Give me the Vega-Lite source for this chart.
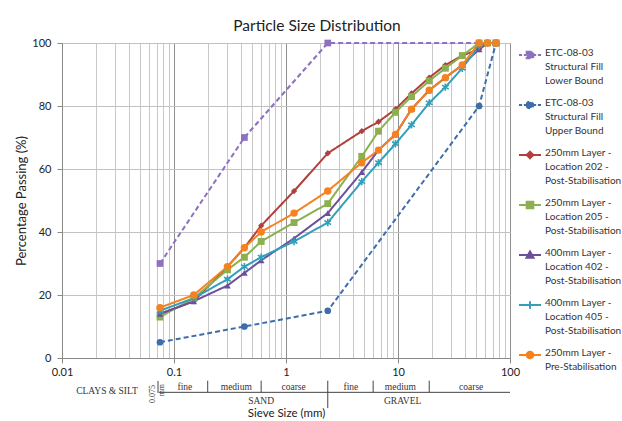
{
  "$schema": "https://vega.github.io/schema/vega-lite/v6.json",
  "autosize": {"type": "none"},
  "width": 448,
  "height": 315,
  "padding": {"left": 62, "top": 43, "right": 112, "bottom": 63},
  "background": "white",
  "config": {
    "view": {"stroke": "#8a8a8a", "strokeWidth": 1},
    "font": "Lato"
  },
  "title": {"text": "Particle Size Distribution", "font": "Lato", "fontSize": 15.5, "fontWeight": "normal", "color": "#222", "offset": 2, "anchor": "middle", "dx": 31},
  "datasets": {
    "psd": [
      {"series": "ETC-08-03|Structural Fill|Lower Bound", "size": 0.075, "pct": 30},
      {"series": "ETC-08-03|Structural Fill|Lower Bound", "size": 0.425, "pct": 70},
      {"series": "ETC-08-03|Structural Fill|Lower Bound", "size": 2.36, "pct": 100},
      {"series": "ETC-08-03|Structural Fill|Lower Bound", "size": 75, "pct": 100},
      {"series": "ETC-08-03|Structural Fill|Upper Bound", "size": 0.075, "pct": 5},
      {"series": "ETC-08-03|Structural Fill|Upper Bound", "size": 0.425, "pct": 10},
      {"series": "ETC-08-03|Structural Fill|Upper Bound", "size": 2.36, "pct": 15},
      {"series": "ETC-08-03|Structural Fill|Upper Bound", "size": 53, "pct": 80},
      {"series": "ETC-08-03|Structural Fill|Upper Bound", "size": 75, "pct": 100},
      {"series": "250mm Layer -|Location 202 -|Post-Stabilisation", "size": 0.075, "pct": 14},
      {"series": "250mm Layer -|Location 202 -|Post-Stabilisation", "size": 0.15, "pct": 18},
      {"series": "250mm Layer -|Location 202 -|Post-Stabilisation", "size": 0.3, "pct": 29},
      {"series": "250mm Layer -|Location 202 -|Post-Stabilisation", "size": 0.425, "pct": 35},
      {"series": "250mm Layer -|Location 202 -|Post-Stabilisation", "size": 0.6, "pct": 42},
      {"series": "250mm Layer -|Location 202 -|Post-Stabilisation", "size": 1.18, "pct": 53},
      {"series": "250mm Layer -|Location 202 -|Post-Stabilisation", "size": 2.36, "pct": 65},
      {"series": "250mm Layer -|Location 202 -|Post-Stabilisation", "size": 4.75, "pct": 72},
      {"series": "250mm Layer -|Location 202 -|Post-Stabilisation", "size": 6.7, "pct": 75},
      {"series": "250mm Layer -|Location 202 -|Post-Stabilisation", "size": 9.5, "pct": 79},
      {"series": "250mm Layer -|Location 202 -|Post-Stabilisation", "size": 13.2, "pct": 84},
      {"series": "250mm Layer -|Location 202 -|Post-Stabilisation", "size": 19, "pct": 89},
      {"series": "250mm Layer -|Location 202 -|Post-Stabilisation", "size": 26.5, "pct": 93},
      {"series": "250mm Layer -|Location 202 -|Post-Stabilisation", "size": 37.5, "pct": 96},
      {"series": "250mm Layer -|Location 202 -|Post-Stabilisation", "size": 53, "pct": 98},
      {"series": "250mm Layer -|Location 202 -|Post-Stabilisation", "size": 63, "pct": 100},
      {"series": "250mm Layer -|Location 202 -|Post-Stabilisation", "size": 75, "pct": 100},
      {"series": "250mm Layer -|Location 205 -|Post-Stabilisation", "size": 0.075, "pct": 13},
      {"series": "250mm Layer -|Location 205 -|Post-Stabilisation", "size": 0.15, "pct": 19},
      {"series": "250mm Layer -|Location 205 -|Post-Stabilisation", "size": 0.3, "pct": 28},
      {"series": "250mm Layer -|Location 205 -|Post-Stabilisation", "size": 0.425, "pct": 32},
      {"series": "250mm Layer -|Location 205 -|Post-Stabilisation", "size": 0.6, "pct": 37},
      {"series": "250mm Layer -|Location 205 -|Post-Stabilisation", "size": 1.18, "pct": 43},
      {"series": "250mm Layer -|Location 205 -|Post-Stabilisation", "size": 2.36, "pct": 49},
      {"series": "250mm Layer -|Location 205 -|Post-Stabilisation", "size": 4.75, "pct": 64},
      {"series": "250mm Layer -|Location 205 -|Post-Stabilisation", "size": 6.7, "pct": 72},
      {"series": "250mm Layer -|Location 205 -|Post-Stabilisation", "size": 9.5, "pct": 78},
      {"series": "250mm Layer -|Location 205 -|Post-Stabilisation", "size": 13.2, "pct": 83},
      {"series": "250mm Layer -|Location 205 -|Post-Stabilisation", "size": 19, "pct": 88},
      {"series": "250mm Layer -|Location 205 -|Post-Stabilisation", "size": 26.5, "pct": 92},
      {"series": "250mm Layer -|Location 205 -|Post-Stabilisation", "size": 37.5, "pct": 96},
      {"series": "250mm Layer -|Location 205 -|Post-Stabilisation", "size": 53, "pct": 100},
      {"series": "250mm Layer -|Location 205 -|Post-Stabilisation", "size": 63, "pct": 100},
      {"series": "250mm Layer -|Location 205 -|Post-Stabilisation", "size": 75, "pct": 100},
      {"series": "400mm Layer -|Location 402 -|Post-Stabilisation", "size": 0.075, "pct": 14},
      {"series": "400mm Layer -|Location 402 -|Post-Stabilisation", "size": 0.15, "pct": 18},
      {"series": "400mm Layer -|Location 402 -|Post-Stabilisation", "size": 0.3, "pct": 23},
      {"series": "400mm Layer -|Location 402 -|Post-Stabilisation", "size": 0.425, "pct": 27},
      {"series": "400mm Layer -|Location 402 -|Post-Stabilisation", "size": 0.6, "pct": 31},
      {"series": "400mm Layer -|Location 402 -|Post-Stabilisation", "size": 1.18, "pct": 38},
      {"series": "400mm Layer -|Location 402 -|Post-Stabilisation", "size": 2.36, "pct": 46},
      {"series": "400mm Layer -|Location 402 -|Post-Stabilisation", "size": 4.75, "pct": 59},
      {"series": "400mm Layer -|Location 402 -|Post-Stabilisation", "size": 6.7, "pct": 66},
      {"series": "400mm Layer -|Location 402 -|Post-Stabilisation", "size": 9.5, "pct": 71},
      {"series": "400mm Layer -|Location 402 -|Post-Stabilisation", "size": 13.2, "pct": 79},
      {"series": "400mm Layer -|Location 402 -|Post-Stabilisation", "size": 19, "pct": 85},
      {"series": "400mm Layer -|Location 402 -|Post-Stabilisation", "size": 26.5, "pct": 89},
      {"series": "400mm Layer -|Location 402 -|Post-Stabilisation", "size": 37.5, "pct": 93},
      {"series": "400mm Layer -|Location 402 -|Post-Stabilisation", "size": 53, "pct": 98},
      {"series": "400mm Layer -|Location 402 -|Post-Stabilisation", "size": 63, "pct": 100},
      {"series": "400mm Layer -|Location 402 -|Post-Stabilisation", "size": 75, "pct": 100},
      {"series": "400mm Layer -|Location 405 -|Post-Stabilisation", "size": 0.075, "pct": 15},
      {"series": "400mm Layer -|Location 405 -|Post-Stabilisation", "size": 0.15, "pct": 19},
      {"series": "400mm Layer -|Location 405 -|Post-Stabilisation", "size": 0.3, "pct": 25},
      {"series": "400mm Layer -|Location 405 -|Post-Stabilisation", "size": 0.425, "pct": 29},
      {"series": "400mm Layer -|Location 405 -|Post-Stabilisation", "size": 0.6, "pct": 32},
      {"series": "400mm Layer -|Location 405 -|Post-Stabilisation", "size": 1.18, "pct": 37},
      {"series": "400mm Layer -|Location 405 -|Post-Stabilisation", "size": 2.36, "pct": 43},
      {"series": "400mm Layer -|Location 405 -|Post-Stabilisation", "size": 4.75, "pct": 56},
      {"series": "400mm Layer -|Location 405 -|Post-Stabilisation", "size": 6.7, "pct": 62},
      {"series": "400mm Layer -|Location 405 -|Post-Stabilisation", "size": 9.5, "pct": 68},
      {"series": "400mm Layer -|Location 405 -|Post-Stabilisation", "size": 13.2, "pct": 74},
      {"series": "400mm Layer -|Location 405 -|Post-Stabilisation", "size": 19, "pct": 81},
      {"series": "400mm Layer -|Location 405 -|Post-Stabilisation", "size": 26.5, "pct": 86},
      {"series": "400mm Layer -|Location 405 -|Post-Stabilisation", "size": 37.5, "pct": 92},
      {"series": "400mm Layer -|Location 405 -|Post-Stabilisation", "size": 53, "pct": 99},
      {"series": "400mm Layer -|Location 405 -|Post-Stabilisation", "size": 63, "pct": 100},
      {"series": "400mm Layer -|Location 405 -|Post-Stabilisation", "size": 75, "pct": 100},
      {"series": "250mm Layer  -|Pre-Stabilisation", "size": 0.075, "pct": 16},
      {"series": "250mm Layer  -|Pre-Stabilisation", "size": 0.15, "pct": 20},
      {"series": "250mm Layer  -|Pre-Stabilisation", "size": 0.3, "pct": 29},
      {"series": "250mm Layer  -|Pre-Stabilisation", "size": 0.425, "pct": 35},
      {"series": "250mm Layer  -|Pre-Stabilisation", "size": 0.6, "pct": 40},
      {"series": "250mm Layer  -|Pre-Stabilisation", "size": 1.18, "pct": 46},
      {"series": "250mm Layer  -|Pre-Stabilisation", "size": 2.36, "pct": 53},
      {"series": "250mm Layer  -|Pre-Stabilisation", "size": 4.75, "pct": 62},
      {"series": "250mm Layer  -|Pre-Stabilisation", "size": 6.7, "pct": 66},
      {"series": "250mm Layer  -|Pre-Stabilisation", "size": 9.5, "pct": 71},
      {"series": "250mm Layer  -|Pre-Stabilisation", "size": 13.2, "pct": 79},
      {"series": "250mm Layer  -|Pre-Stabilisation", "size": 19, "pct": 85},
      {"series": "250mm Layer  -|Pre-Stabilisation", "size": 26.5, "pct": 89},
      {"series": "250mm Layer  -|Pre-Stabilisation", "size": 37.5, "pct": 93},
      {"series": "250mm Layer  -|Pre-Stabilisation", "size": 53, "pct": 100},
      {"series": "250mm Layer  -|Pre-Stabilisation", "size": 63, "pct": 100},
      {"series": "250mm Layer  -|Pre-Stabilisation", "size": 75, "pct": 100}
    ],
    "bands": [
      {"size": 0.0252, "level": -10.5, "label": "CLAYS & SILT"},
      {"size": 0.125, "level": -9.2, "label": "fine"},
      {"size": 0.36, "level": -9.2, "label": "medium"},
      {"size": 1.17, "level": -9.2, "label": "coarse"},
      {"size": 3.8, "level": -9.2, "label": "fine"},
      {"size": 10.5, "level": -9.2, "label": "medium"},
      {"size": 45, "level": -9.2, "label": "coarse"},
      {"size": 0.6, "level": -13.7, "label": "SAND"},
      {"size": 11, "level": -13.7, "label": "GRAVEL"}
    ],
    "rotated": [
      {"size": 0.065, "level": -11.4, "label": "0.075"},
      {"size": 0.078, "level": -10.2, "label": "mm"}
    ],
    "dividers": [
      {"size": 0.072, "top": -7.3, "bottom": -11.1},
      {"size": 0.2, "top": -7.2, "bottom": -10.9},
      {"size": 0.6, "top": -7.2, "bottom": -10.9},
      {"size": 2.36, "top": -7.2, "bottom": -15.9},
      {"size": 6, "top": -7.2, "bottom": -10.9},
      {"size": 19, "top": -7.2, "bottom": -10.9}
    ],
    "hline": [
      {"from": 0.0734, "to": 100, "level": -10.9}
    ]
  },
  "layer": [
    {
      "data": {"name": "psd"},
      "mark": {"type": "line", "strokeWidth": 2},
      "encoding": {
        "x": {"field": "size", "type": "quantitative",
          "scale": {"type": "log", "domain": [0.01, 100], "nice": false},
          "axis": {
            "title": "Sieve Size (mm)", "titleFont": "Lato", "titleFontSize": 11.5, "titleFontWeight": "normal", "titleColor": "#222", "titlePadding": 30,
            "values": [0.01,0.02,0.03,0.04,0.05,0.06,0.07,0.08,0.09,0.1,0.2,0.3,0.4,0.5,0.6,0.7,0.8,0.9,1,2,3,4,5,6,7,8,9,10,20,30,40,50,60,70,80,90,100],
            "labelExpr": "abs(log(datum.value)/LN10 - round(log(datum.value)/LN10)) < 0.000001 ? format(datum.value, '~g') : ''",
            "labelFont": "Lato", "labelFontSize": 11, "labelColor": "#222", "labelPadding": 3, "labelFlush": false, "labelOverlap": false,
            "domainColor": "#8a8a8a",
            "tickSize": 5,
            "tickColor": {"condition": {"test": "abs(log(datum.value)/LN10 - round(log(datum.value)/LN10)) < 0.000001", "value": "#8a8a8a"}, "value": "transparent"},
            "gridColor": {"condition": {"test": "abs(log(datum.value)/LN10 - round(log(datum.value)/LN10)) < 0.000001", "value": "#8f8f8f"}, "value": "#c8c8c8"},
            "gridOpacity": 1
          }
        },
        "y": {"field": "pct", "type": "quantitative",
          "scale": {"domain": [0, 100], "nice": false},
          "axis": {
            "title": "Percentage Passing (%)", "titleFont": "Lato", "titleFontSize": 13, "titleFontWeight": "normal", "titleColor": "#222", "titlePadding": 3,
            "values": [0,5,10,15,20,25,30,35,40,45,50,55,60,65,70,75,80,85,90,95,100],
            "labelExpr": "datum.value % 10 == 0 ? datum.label : ''",
            "labelFont": "Lato", "labelFontSize": 11, "labelColor": "#222", "labelPadding": 6,
            "domainColor": "#8a8a8a", "tickColor": "#8a8a8a", "tickSize": 5,
            "gridColor": "#c2c2c2", "gridOpacity": 1
          }
        },
        "color": {"field": "series", "type": "nominal",
          "scale": {
            "domain": ["ETC-08-03|Structural Fill|Lower Bound", "ETC-08-03|Structural Fill|Upper Bound", "250mm Layer -|Location 202 -|Post-Stabilisation", "250mm Layer -|Location 205 -|Post-Stabilisation", "400mm Layer -|Location 402 -|Post-Stabilisation", "400mm Layer -|Location 405 -|Post-Stabilisation", "250mm Layer  -|Pre-Stabilisation"],
            "range": ["#8e70c0", "#3d6eab", "#b0403d", "#8cb04f", "#6c4f9c", "#32a0ba", "#f5821f"]
          },
          "legend": {
            "title": null, "orient": "right", "offset": 8,
            "labelFont": "Lato", "labelFontSize": 10, "labelColor": "#333", "labelLimit": 200,
            "labelExpr": "split(datum.label, '|')",
            "labelBaseline": "top", "labelOffset": 3,
            "symbolSize": 484, "symbolStrokeWidth": 2, "rowPadding": 7,
            "encode": {
              "symbols": {"update": {
                "shape": {"signal": "['M-0.3,-0.3H0.3V0.3H-0.3ZM-1,0H-0.72M-0.56,0H-0.3M0.3,0H0.56M0.72,0H1','M-0.3,0A0.3,0.3 0 1,0 0.3,0A0.3,0.3 0 1,0 -0.3,0ZM-1,0H-0.72M-0.56,0H-0.3M0.3,0H0.56M0.72,0H1','M0,-0.3L0.3,0L0,0.3L-0.3,0ZM-1,0H1','M-0.3,-0.3H0.3V0.3H-0.3ZM-1,0H1','M0,-0.32L0.32,0.25H-0.32ZM-1,0H1','M0,-0.35V0.35M-1,0H1','M-0.3,0A0.3,0.3 0 1,0 0.3,0A0.3,0.3 0 1,0 -0.3,0ZM-1,0H1'][indexof(['ETC-08-03|Structural Fill|Lower Bound','ETC-08-03|Structural Fill|Upper Bound','250mm Layer -|Location 202 -|Post-Stabilisation','250mm Layer -|Location 205 -|Post-Stabilisation','400mm Layer -|Location 402 -|Post-Stabilisation','400mm Layer -|Location 405 -|Post-Stabilisation','250mm Layer  -|Pre-Stabilisation'], datum.value)]"},
                "fill": {"scale": "color", "field": "value"},
                "stroke": {"scale": "color", "field": "value"},
                "strokeWidth": {"value": 2},
                "strokeDash": {"value": [1, 0]},
                "size": {"value": 484},
                "opacity": {"value": 1}
              }},
              "labels": {"update": {"lineHeight": {"value": 14}, "dy": {"value": -7}}}
            }
          }
        },
        "strokeDash": {"field": "series", "type": "nominal", "legend": null,
          "scale": {
            "domain": ["ETC-08-03|Structural Fill|Lower Bound", "ETC-08-03|Structural Fill|Upper Bound", "250mm Layer -|Location 202 -|Post-Stabilisation", "250mm Layer -|Location 205 -|Post-Stabilisation", "400mm Layer -|Location 402 -|Post-Stabilisation", "400mm Layer -|Location 405 -|Post-Stabilisation", "250mm Layer  -|Pre-Stabilisation"],
            "range": [[5, 3], [5, 3], [1, 0], [1, 0], [1, 0], [1, 0], [1, 0]]
          }
        }
      }
    },
    {
      "data": {"name": "psd"},
      "transform": [{"filter": {"field": "series", "equal": "ETC-08-03|Structural Fill|Lower Bound"}}],
      "mark": {"type": "point", "filled": true, "shape": "square", "size": 45, "opacity": 1},
      "encoding": {
        "x": {"field": "size", "type": "quantitative"},
        "y": {"field": "pct", "type": "quantitative"},
        "color": {"field": "series", "type": "nominal", "legend": null}
      }
    },
    {
      "data": {"name": "psd"},
      "transform": [{"filter": {"field": "series", "equal": "ETC-08-03|Structural Fill|Upper Bound"}}],
      "mark": {"type": "point", "filled": true, "shape": "circle", "size": 45, "opacity": 1},
      "encoding": {
        "x": {"field": "size", "type": "quantitative"},
        "y": {"field": "pct", "type": "quantitative"},
        "color": {"field": "series", "type": "nominal", "legend": null}
      }
    },
    {
      "data": {"name": "psd"},
      "transform": [{"filter": {"field": "series", "equal": "250mm Layer -|Location 202 -|Post-Stabilisation"}}],
      "mark": {"type": "point", "filled": true, "shape": "diamond", "size": 40, "opacity": 1},
      "encoding": {
        "x": {"field": "size", "type": "quantitative"},
        "y": {"field": "pct", "type": "quantitative"},
        "color": {"field": "series", "type": "nominal", "legend": null}
      }
    },
    {
      "data": {"name": "psd"},
      "transform": [{"filter": {"field": "series", "equal": "250mm Layer -|Location 205 -|Post-Stabilisation"}}],
      "mark": {"type": "point", "filled": true, "shape": "square", "size": 48, "opacity": 1},
      "encoding": {
        "x": {"field": "size", "type": "quantitative"},
        "y": {"field": "pct", "type": "quantitative"},
        "color": {"field": "series", "type": "nominal", "legend": null}
      }
    },
    {
      "data": {"name": "psd"},
      "transform": [{"filter": {"field": "series", "equal": "400mm Layer -|Location 402 -|Post-Stabilisation"}}],
      "mark": {"type": "point", "filled": true, "shape": "triangle-up", "size": 45, "opacity": 1},
      "encoding": {
        "x": {"field": "size", "type": "quantitative"},
        "y": {"field": "pct", "type": "quantitative"},
        "color": {"field": "series", "type": "nominal", "legend": null}
      }
    },
    {
      "data": {"name": "psd"},
      "transform": [{"filter": {"field": "series", "equal": "400mm Layer -|Location 405 -|Post-Stabilisation"}}],
      "mark": {"type": "point", "filled": false, "shape": "M0,-1V1M-0.9,-0.55L0.9,0.55M-0.9,0.55L0.9,-0.55", "size": 55, "strokeWidth": 1.6, "opacity": 1},
      "encoding": {
        "x": {"field": "size", "type": "quantitative"},
        "y": {"field": "pct", "type": "quantitative"},
        "color": {"field": "series", "type": "nominal", "legend": null}
      }
    },
    {
      "data": {"name": "psd"},
      "transform": [{"filter": {"field": "series", "equal": "250mm Layer  -|Pre-Stabilisation"}}],
      "mark": {"type": "point", "filled": true, "shape": "circle", "size": 55, "opacity": 1},
      "encoding": {
        "x": {"field": "size", "type": "quantitative"},
        "y": {"field": "pct", "type": "quantitative"},
        "color": {"field": "series", "type": "nominal", "legend": null}
      }
    },
    {
      "data": {"name": "bands"},
      "mark": {"type": "text", "font": "Liberation Serif", "fontSize": 9.5, "color": "#333", "baseline": "middle", "align": "center"},
      "encoding": {
        "x": {"field": "size", "type": "quantitative"},
        "y": {"field": "level", "type": "quantitative"},
        "text": {"field": "label"}
      }
    },
    {
      "data": {"name": "rotated"},
      "mark": {"type": "text", "font": "Liberation Serif", "fontSize": 8, "color": "#333", "baseline": "middle", "align": "center", "angle": 270},
      "encoding": {
        "x": {"field": "size", "type": "quantitative"},
        "y": {"field": "level", "type": "quantitative"},
        "text": {"field": "label"}
      }
    },
    {
      "data": {"name": "dividers"},
      "mark": {"type": "rule", "color": "#444", "strokeWidth": 1},
      "encoding": {
        "x": {"field": "size", "type": "quantitative"},
        "y": {"field": "top", "type": "quantitative"},
        "y2": {"field": "bottom"}
      }
    },
    {
      "data": {"name": "hline"},
      "mark": {"type": "rule", "color": "#444", "strokeWidth": 1},
      "encoding": {
        "x": {"field": "from", "type": "quantitative"},
        "x2": {"field": "to"},
        "y": {"field": "level", "type": "quantitative"}
      }
    }
  ]
}
